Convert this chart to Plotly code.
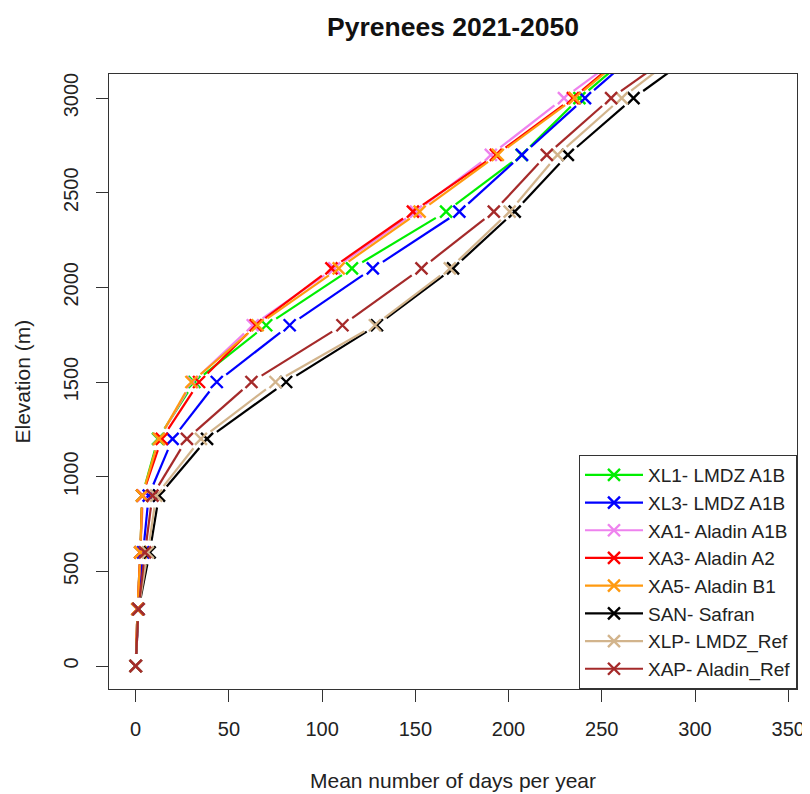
import math
import plotly.graph_objects as go

# ---------------- data ----------------
elevation = [0, 300, 600, 900, 1200, 1500, 1800, 2100, 2400, 2700, 3000, 3300]

series_names = [
    "XL1- LMDZ A1B",
    "XL3- LMDZ A1B",
    "XA1- Aladin A1B",
    "XA3- Aladin A2",
    "XA5- Aladin B1",
    "SAN- Safran",
    "XLP- LMDZ_Ref",
    "XAP- Aladin_Ref",
]
series_colors = ["#00EE00", "#0000FF", "#EE82EE", "#FF0000", "#FF9A10",
                 "#000000", "#D2B48C", "#A52A2A"]

xl1 = [0, 1.0, 2.5, 3.5, 12.0, 31.5, 70.0, 116.0, 166.5, 207.0, 238.0, 274.0]
xl3 = [0, 1.5, 4.0, 7.0, 19.8, 43.5, 82.6, 127.2, 173.6, 207.2, 241.0, 276.0]
xa1 = [0, 1.0, 2.5, 4.0, 12.5, 30.5, 62.8, 106.5, 150.3, 190.5, 229.7, 271.0]
xa3 = [0, 1.0, 2.5, 3.5, 14.0, 34.0, 64.4, 105.0, 148.7, 193.2, 234.5, 271.0]
xa5 = [0, 1.0, 2.5, 3.5, 12.5, 29.9, 65.4, 108.9, 152.3, 194.2, 235.5, 272.0]
san = [0, 1.5, 7.5, 12.5, 38.3, 80.7, 129.4, 170.2, 203.3, 231.8, 267.0, 309.0]
xlp = [0, 1.5, 6.5, 11.0, 35.0, 75.0, 128.3, 168.5, 200.6, 226.3, 260.7, 300.0]
xap = [0, 1.5, 5.0, 9.0, 27.5, 62.1, 110.9, 153.3, 192.1, 220.5, 255.0, 298.0]
series_values = [xl1, xl3, xa1, xa3, xa5, san, xlp, xap]

x_ticks = [0, 50, 100, 150, 200, 250, 300, 350]
y_ticks = [0, 500, 1000, 1500, 2000, 2500, 3000]

title_text = "Pyrenees 2021-2050"
x_title = "Mean number of days per year"
y_title = "Elevation (m)"

# ---------------- layout geometry ----------------
# the page body has an 8px margin, so the figure is 8px smaller than the window
W, H = 802, 786
L_M, R_M, T_M, B_M = 101, 13, 66, 105
PLOT_W = W - L_M - R_M
PLOT_H = H - T_M - B_M
XR = [-14.3, 354.7]
YR = [-121.5, 3127.0]
kx = PLOT_W / (XR[1] - XR[0])
ky = PLOT_H / (YR[1] - YR[0])
GAP = 12  # pixels of gap around points (R type="b")

FONT = "Liberation Sans, Arial, sans-serif"
TXT = "#222"


def gapped(xs, ys):
    gx, gy = [], []
    for i in range(len(xs) - 1):
        x0, y0, x1, y1 = xs[i], ys[i], xs[i + 1], ys[i + 1]
        dxp, dyp = (x1 - x0) * kx, (y1 - y0) * ky
        length = math.hypot(dxp, dyp)
        if length <= 2 * GAP:
            continue
        f = GAP / length
        gx += [x0 + (x1 - x0) * f, x1 - (x1 - x0) * f, None]
        gy += [y0 + (y1 - y0) * f, y1 - (y1 - y0) * f, None]
    return gx, gy


fig = go.Figure()
for name, col, vals in zip(series_names, series_colors, series_values):
    lx, ly = gapped(vals, elevation)
    fig.add_trace(go.Scatter(x=lx, y=ly, mode="lines", line=dict(color=col, width=2.2),
                             showlegend=False, hoverinfo="skip", legendgroup=name))
    fig.add_trace(go.Scatter(x=vals, y=elevation, mode="markers",
                             marker=dict(symbol="x-thin", size=12,
                                         line=dict(color=col, width=2.4)),
                             showlegend=False, legendgroup=name))
    fig.add_trace(go.Scatter(x=[None], y=[None], mode="lines+markers", name=name,
                             line=dict(color=col, width=2.2),
                             marker=dict(symbol="x-thin", size=12,
                                         line=dict(color=col, width=2.4)),
                             legendgroup=name))

axis_common = dict(showline=True, mirror=True, linecolor="#333", linewidth=1,
                   ticks="outside", ticklen=12, tickcolor="#333", tickwidth=1,
                   showgrid=False, zeroline=False, automargin=False,
                   tickfont=dict(family=FONT, size=20, color=TXT))

fig.update_layout(
    width=W, height=H,
    margin=dict(l=L_M, r=R_M, t=T_M, b=B_M, autoexpand=False),
    paper_bgcolor="white", plot_bgcolor="white",
    font=dict(family=FONT, color=TXT),
    title=dict(text="<b>" + title_text + "</b>", x=(L_M + PLOT_W / 2) / W, xanchor="center",
               y=1 - 19 / H, yanchor="middle", yref="container",
               font=dict(family=FONT, size=26.5, color="#111")),
    xaxis=dict(range=XR, tickvals=x_ticks, ticklabelstandoff=10, **axis_common),
    yaxis=dict(range=YR, tickvals=y_ticks, tickangle=-90, ticklabelstandoff=10, **axis_common),
    legend=dict(x=1, y=0, xanchor="right", yanchor="bottom",
                bordercolor="#333", borderwidth=1, bgcolor="white",
                font=dict(family=FONT, size=19, color=TXT),
                itemwidth=58, tracegroupgap=0),
    annotations=[
        dict(text=x_title, xref="paper", yref="paper", x=0.5, y=-91 / PLOT_H,
             xanchor="center", yanchor="middle", showarrow=False,
             font=dict(family=FONT, size=21, color=TXT)),
        dict(text=y_title, xref="paper", yref="paper", x=-87 / PLOT_W, y=0.5,
             xanchor="center", yanchor="middle", showarrow=False, textangle=-90,
             font=dict(family=FONT, size=21, color=TXT)),
    ],
)

fig.write_html("out.html")
